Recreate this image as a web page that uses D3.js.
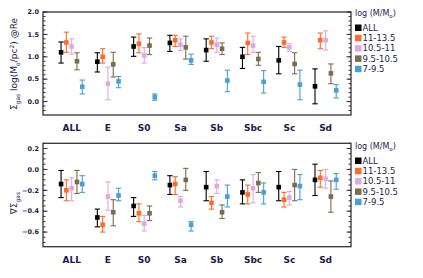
<!DOCTYPE html>
<html lang="en">
<head>
<meta charset="UTF-8">
<title>Sigma gas by morphology</title>
<script src="https://d3js.org/d3.v7.min.js"></script>
<style>
  body { margin: 0; background: #fff; }
  text { font-family: "DejaVu Sans", Verdana, sans-serif; fill: #1c1c4a; }
</style>
</head>
<body>
<svg id="chart" width="423" height="278"></svg>
<script>
const categories = ["ALL", "E", "S0", "Sa", "Sb", "Sbc", "Sc", "Sd"];
const massBins = ["ALL", "11-13.5", "10.5-11", "9.5-10.5", "7-9.5"];
const colors = ["#000000", "#ff6a26", "#e0a8e2", "#7b6b4f", "#4a9ed2"];

// top panel: [value, low, high] per category
const sigAll  = [[1.10,0.86,1.33],[0.89,0.66,1.09],[1.23,1.01,1.44],[1.31,1.12,1.48],[1.15,0.90,1.40],[1.00,0.74,1.21],[0.92,0.62,1.23],[0.34,-0.05,0.73]];
const sigHigh = [[1.32,1.10,1.55],[1.00,0.86,1.18],[1.29,1.09,1.51],[1.37,1.23,1.48],[1.32,1.18,1.46],[1.31,1.05,1.53],[1.32,1.21,1.44],[1.37,1.18,1.53]];
const sigMid  = [[1.23,1.06,1.40],[0.40,0.04,0.77],[1.03,0.86,1.21],[1.27,1.14,1.40],[1.27,1.10,1.42],[1.25,1.10,1.46],[1.21,1.12,1.29],[1.37,1.15,1.58]];
const sigLow  = [[0.90,0.71,1.09],[0.83,0.55,1.10],[1.25,1.05,1.42],[1.21,0.95,1.46],[1.18,1.05,1.31],[0.95,0.81,1.10],[0.84,0.62,1.09],[0.63,0.40,0.84]];
const sigDwarf= [[0.33,0.17,0.48],[0.45,0.31,0.56],[0.10,0.03,0.17],[0.92,0.83,1.06],[0.47,0.22,0.70],[0.44,0.19,0.69],[0.38,0.04,0.70],[0.25,0.08,0.38]];

// bottom panel: gradient [value, low, high]
const gradAll  = [[-0.14,-0.27,-0.01],[-0.46,-0.55,-0.38],[-0.35,-0.45,-0.27],[-0.15,-0.24,-0.06],[-0.17,-0.30,-0.02],[-0.22,-0.33,-0.10],[-0.17,-0.30,-0.02],[-0.10,-0.25,0.05]];
const gradHigh = [[-0.20,-0.30,-0.10],[-0.53,-0.60,-0.45],[-0.42,-0.50,-0.33],[-0.14,-0.24,-0.07],[-0.32,-0.38,-0.26],[-0.24,-0.33,-0.15],[-0.29,-0.36,-0.22],[-0.08,-0.17,-0.01]];
const gradMid  = [[-0.18,-0.30,-0.08],[-0.26,-0.39,-0.12],[-0.52,-0.59,-0.44],[-0.30,-0.36,-0.26],[-0.16,-0.23,-0.10],[-0.18,-0.32,-0.05],[-0.27,-0.34,-0.21],[-0.09,-0.18,0.00]];
const gradLow  = [[-0.12,-0.23,-0.01],[-0.41,-0.54,-0.29],[-0.42,-0.49,-0.35],[-0.10,-0.20,0.01],[-0.41,-0.47,-0.34],[-0.13,-0.22,-0.03],[-0.15,-0.30,0.00],[-0.26,-0.41,-0.11]];
const gradDwarf= [[-0.14,-0.22,-0.06],[-0.25,-0.30,-0.18],[-0.06,-0.10,-0.02],[-0.53,-0.59,-0.50],[-0.26,-0.36,-0.15],[-0.22,-0.33,-0.13],[-0.16,-0.29,-0.05],[-0.10,-0.19,-0.04]];

const sigSeries = [sigAll, sigHigh, sigMid, sigLow, sigDwarf];
const gradSeries = [gradAll, gradHigh, gradMid, gradLow, gradDwarf];

const svg = d3.select("#chart");
const left = 43, right = 351;

const x = d3.scaleLinear().domain([-0.79, 7.7]).range([left, right]);
const offset = 0.146;

function panel(series, yDomain, top, bottom, major, minorStep, fmt, legendTop) {
  const y = d3.scaleLinear().domain(yDomain).range([bottom, top]);
  const g = svg.append("g");

  // frame
  g.append("rect")
    .attr("x", left).attr("y", top)
    .attr("width", right - left).attr("height", bottom - top)
    .attr("fill", "none").attr("stroke", "#333").attr("stroke-width", 1.3);

  // ticks
  const minor = d3.range(Math.ceil(yDomain[0] / minorStep), Math.floor(yDomain[1] / minorStep) + 1)
    .map(k => +(k * minorStep).toFixed(3));
  [left, right].forEach((ax, side) => {
    const dir = side === 0 ? 1 : -1;
    g.selectAll(null).data(minor).enter().append("line")
      .attr("x1", ax).attr("x2", ax + dir * 2.5)
      .attr("y1", d => y(d)).attr("y2", d => y(d))
      .attr("stroke", "#333").attr("stroke-width", 1);
    g.selectAll(null).data(major).enter().append("line")
      .attr("x1", ax).attr("x2", ax + dir * 4.5)
      .attr("y1", d => y(d)).attr("y2", d => y(d))
      .attr("stroke", "#333").attr("stroke-width", 1);
  });

  g.selectAll(null).data(major).enter().append("text")
    .attr("x", left - 4).attr("y", d => y(d) + 2.3)
    .attr("text-anchor", "end")
    .attr("font-size", 6.5).attr("font-weight", "bold")
    .text(fmt);

  // category labels
  g.selectAll(null).data(categories).enter().append("text")
    .attr("x", (d, i) => x(i)).attr("y", bottom + 16)
    .attr("text-anchor", "middle")
    .attr("font-size", 9).attr("font-weight", "bold")
    .text(d => d);

  // error bars + markers
  series.forEach((vals, j) => {
    const sg = g.append("g").attr("stroke", colors[j]).attr("fill", colors[j]);
    const px = (d, i) => x(i + (j - 2) * offset);
    sg.selectAll(null).data(vals).enter().append("line")
      .attr("x1", px).attr("x2", px)
      .attr("y1", d => y(d[1])).attr("y2", d => y(d[2]))
      .attr("stroke-width", 1.1);
    [1, 2].forEach(k => {
      sg.selectAll(null).data(vals).enter().append("line")
        .attr("x1", (d, i) => px(d, i) - 2.7).attr("x2", (d, i) => px(d, i) + 2.7)
        .attr("y1", d => y(d[k])).attr("y2", d => y(d[k]))
        .attr("stroke-width", 1.1);
    });
    sg.selectAll(null).data(vals).enter().append("rect")
      .attr("x", (d, i) => px(d, i) - 2.3).attr("y", d => y(d[0]) - 2.3)
      .attr("width", 4.6).attr("height", 4.6)
      .attr("stroke", "none");
  });

  // legend
  const lg = g.append("g").attr("transform", `translate(355,${legendTop})`);
  const title = lg.append("text").attr("x", 0).attr("y", 3).attr("font-size", 8);
  title.append("tspan").text("log (M/M");
  title.append("tspan").attr("font-size", 5.5).attr("dy", 2).text("o");
  title.append("tspan").attr("dy", -2).text(")");
  massBins.forEach((b, j) => {
    const yy = 14.5 + j * 10.3;
    lg.append("rect").attr("x", 0).attr("y", yy - 3).attr("width", 6.5).attr("height", 6.5)
      .attr("fill", colors[j]);
    lg.append("text").attr("x", 7.5).attr("y", yy + 3.2)
      .attr("font-size", 8.5).text(b);
  });
  return y;
}

panel(sigSeries, [-0.3, 2.0], 12, 115, [0, 0.5, 1.0, 1.5, 2.0], 0.1, d3.format(".1f"), 13);
panel(gradSeries, [-0.74, 0.25], 143.3, 246.7, [-0.6, -0.4, -0.2, 0, 0.2], 0.05, d3.format(".1f"), 146);

// y titles
const t1 = svg.append("text")
  .attr("transform", "translate(17,64) rotate(-90)")
  .attr("text-anchor", "middle").attr("font-size", 9);
t1.append("tspan").text("Σ");
t1.append("tspan").attr("font-size", 6).attr("dy", 2.5).text("gas");
t1.append("tspan").attr("dy", -2.5).text(" log(M");
t1.append("tspan").attr("font-size", 6).attr("dy", 2.5).text("o");
t1.append("tspan").attr("dy", -2.5).text("/pc");
t1.append("tspan").attr("font-size", 6).attr("dy", -3).text("2");
t1.append("tspan").attr("dy", 3).text(") @Re");

const t2 = svg.append("text")
  .attr("transform", "translate(17,203) rotate(-90)")
  .attr("text-anchor", "middle").attr("font-size", 9);
t2.append("tspan").text("∇Σ");
t2.append("tspan").attr("font-size", 6).attr("dy", 2.5).text("gas");
</script>
</body>
</html>
